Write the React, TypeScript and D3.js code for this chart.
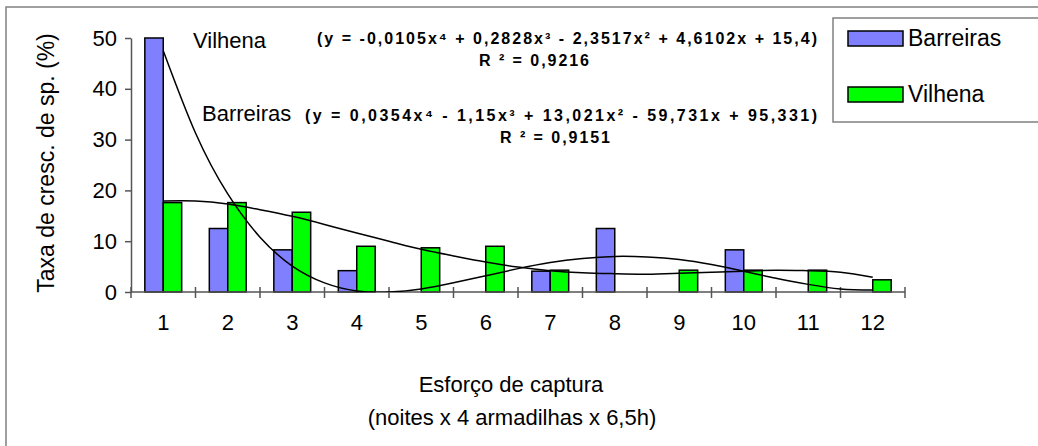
import { useRef, useEffect } from "react";
import * as d3 from "d3";

const categories = ["1", "2", "3", "4", "5", "6", "7", "8", "9", "10", "11", "12"];
const barreiras = [50, 12.5, 8.3, 4.2, 0, 0, 4.1, 12.5, 0, 8.3, 0, 0];
const vilhena = [17.6, 17.6, 15.7, 9.0, 8.7, 9.0, 4.3, 0, 4.3, 4.3, 4.3, 2.4];
const yTicks = [0, 10, 20, 30, 40, 50];

// trendline readings at half steps of the capture effort
const trendX = [1, 1.5, 2, 2.5, 3, 3.5, 4, 4.5, 5, 5.5, 6, 6.5, 7, 7.5, 8, 8.5, 9, 9.5, 10, 10.5, 11, 11.5, 12];
const barreirasTrend = [47.5, 31.3, 19.3, 10.8, 5.1, 1.8, 0.2, 0, 0.6, 1.8, 3.2, 4.6, 5.8, 6.6, 7.0, 6.9, 6.4, 5.4, 4.1, 2.7, 1.5, 0.6, 0.4];
const vilhenaTrend = [17.9, 17.9, 17.3, 16.2, 14.9, 13.3, 11.6, 10.0, 8.4, 7.1, 5.9, 4.9, 4.2, 3.8, 3.6, 3.5, 3.7, 3.9, 4.1, 4.3, 4.2, 3.9, 2.9];

const series = [
  { name: "Barreiras", values: barreiras, color: "#8080ff" },
  { name: "Vilhena", values: vilhena, color: "#00ff00" },
];

const FONT = "'Liberation Sans', Arial, sans-serif";

export default function App() {
  const ref = useRef<SVGSVGElement>(null);

  useEffect(() => {
    if (!ref.current) return;
    const svg = d3.select(ref.current); svg.selectAll("*").remove();
    const W = 1038, H = 446;
    const left = 131, right = 905, top = 38, bottom = 292;

    svg.append("rect").attr("width", W).attr("height", H).attr("fill", "#fff");
    // chart area border
    svg.append("rect").attr("x", 6).attr("y", 7).attr("width", W + 20).attr("height", H + 20)
      .attr("fill", "none").attr("stroke", "#808080").attr("stroke-width", 1.5);

    const x = d3.scaleBand().domain(categories).range([left, right]).paddingInner(0.4286).paddingOuter(0.2143);
    const x1 = d3.scaleBand().domain(series.map(s => s.name)).range([0, x.bandwidth()]);
    const xv = d3.scaleLinear().domain([0.5, 12.5]).range([left, right]);
    const y = d3.scaleLinear().domain([0, 50]).range([bottom, top]);

    svg.append("defs").append("clipPath").attr("id", "plot")
      .append("rect").attr("x", left).attr("y", top - 2).attr("width", right - left).attr("height", bottom - top + 2);

    // bars
    series.forEach(s => {
      svg.append("g").selectAll("rect").data(s.values.map((v, i) => ({ v, c: categories[i] })).filter(d => d.v > 0)).join("rect")
        .attr("x", d => x(d.c)! + x1(s.name)!).attr("width", x1.bandwidth())
        .attr("y", d => y(d.v)).attr("height", d => bottom - y(d.v))
        .attr("fill", s.color).attr("stroke", "#000").attr("stroke-width", 1.5);
    });

    // axes
    const ya = svg.append("g").attr("transform", `translate(${left},0)`)
      .call(d3.axisLeft(y).tickValues(yTicks).tickSize(6).tickSizeOuter(0).tickPadding(8));
    ya.selectAll("text").attr("fill", "#000").attr("font-size", "22px").attr("font-family", FONT);

    const xa = svg.append("g").attr("transform", `translate(0,${bottom})`)
      .call(d3.axisBottom(x).tickSize(0).tickSizeOuter(0).tickPadding(22));
    xa.selectAll("text").attr("fill", "#000").attr("font-size", "22px").attr("font-family", FONT);
    xa.select(".domain").remove();
    svg.append("g").selectAll("line").data(d3.range(0, 13)).join("line")
      .attr("x1", i => xv(i + 0.5)).attr("x2", i => xv(i + 0.5))
      .attr("y1", bottom - 5).attr("y2", bottom + 6).attr("stroke", "#555").attr("stroke-width", 1.5);
    svg.append("line").attr("x1", left).attr("x2", right).attr("y1", bottom).attr("y2", bottom)
      .attr("stroke", "#555").attr("stroke-width", 1.5);
    svg.selectAll(".domain").attr("stroke", "#555").attr("stroke-width", 1.5);
    svg.selectAll(".tick line").attr("stroke", "#555").attr("stroke-width", 1.5);

    // trendlines
    [barreirasTrend, vilhenaTrend].forEach(vals => {
      const line = d3.line<number>().x((_d, i) => xv(trendX[i])).y(d => y(d)).curve(d3.curveNatural);
      svg.append("path").datum(vals).attr("clip-path", "url(#plot)")
        .attr("fill", "none").attr("stroke", "#000").attr("stroke-width", 1.5).attr("d", line);
    });

    // labels and equations
    const txt = (tx: number, ty: number, s: string, size: number, opts: { anchor?: string; bold?: boolean; len?: number } = {}) => {
      const t = svg.append("text").attr("x", tx).attr("y", ty).attr("font-size", size + "px").attr("font-family", FONT)
        .attr("text-anchor", opts.anchor ?? "start").attr("fill", "#000").attr("font-weight", opts.bold ? "bold" : "normal").text(s);
      if (opts.len) t.attr("textLength", opts.len).attr("lengthAdjust", "spacing");
      return t;
    };
    txt(193, 48, "Vilhena", 22);
    txt(202, 121, "Barreiras", 22);
    txt(817, 44, "(y = -0,0105x⁴ + 0,2828x³ - 2,3517x² + 4,6102x + 15,4)", 16, { anchor: "end", bold: true, len: 500 });
    txt(534, 66, "R ² = 0,9216", 16, { anchor: "middle", bold: true, len: 110 });
    txt(817, 121, "(y = 0,0354x⁴ - 1,15x³ + 13,021x² - 59,731x + 95,331)", 16, { anchor: "end", bold: true, len: 512 });
    txt(555, 143, "R ² = 0,9151", 16, { anchor: "middle", bold: true, len: 110 });

    // axis titles
    txt(511, 392, "Esforço de captura", 22, { anchor: "middle" });
    txt(512, 425, "(noites x 4 armadilhas x 6,5h)", 22, { anchor: "middle" });
    txt(0, 0, "Taxa de cresc. de sp. (%)", 23, { anchor: "middle" }).attr("transform", "translate(54,163) rotate(-90)");

    // legend
    svg.append("rect").attr("x", 833).attr("y", 18).attr("width", 240).attr("height", 104)
      .attr("fill", "#fff").attr("stroke", "#808080").attr("stroke-width", 1.5);
    series.forEach((s, i) => {
      const ly = 31 + i * 56;
      svg.append("rect").attr("x", 848).attr("y", ly).attr("width", 55).attr("height", 15)
        .attr("fill", s.color).attr("stroke", "#000").attr("stroke-width", 1.5);
      txt(908, ly + 15, s.name, 23);
    });
  }, []);

  return (
    <svg ref={ref} width={1038} height={446} style={{ position: "absolute", left: 0, top: 0, display: "block" }} />
  );
}
